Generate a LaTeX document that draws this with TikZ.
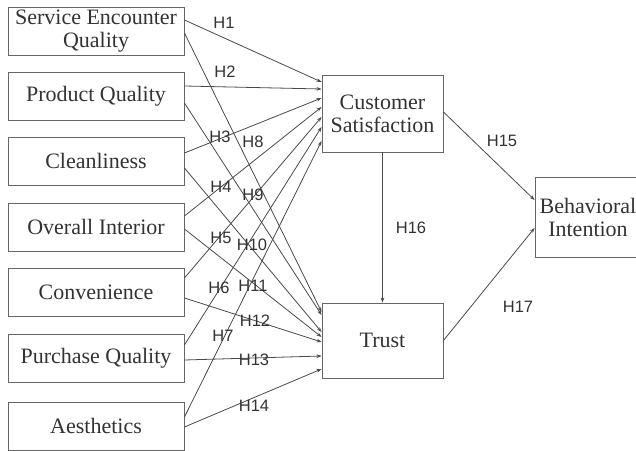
\documentclass[tikz,border=0pt]{standalone}
\usepackage{fontspec}
\setmainfont{Liberation Serif}
\newfontfamily\labfont{Liberation Sans}
\usetikzlibrary{arrows.meta}
\definecolor{linec}{HTML}{4A4A4A}
\definecolor{boxc}{HTML}{666666}
\definecolor{txtc}{HTML}{333333}
\begin{document}
\begin{tikzpicture}[x=1bp,y=-1bp,
  box/.style={draw=boxc, line width=0.9bp, minimum width=176bp, minimum height=48bp,
    inner sep=0pt, align=center, text=txtc, font=\fontsize{22bp}{23bp}\selectfont},
  lab/.style={text=txtc, font=\labfont\fontsize{16.5bp}{18bp}\selectfont, inner sep=0pt},
  conn/.style={draw=linec, line width=0.8bp, -{Stealth[length=5bp,width=3.6bp]}}]
\clip (0,0) rectangle (636,451);
\fill[white] (0,0) rectangle (636,451);
% source boxes
\node[box] (seq) at (96,31) {Service Encounter\\Quality};
\node[box] (pq) at (96,96) {Product Quality};
\node[box] (cl) at (96,161) {Cleanliness};
\node[box] (oi) at (96,227) {Overall Interior};
\node[box] (cv) at (96,292) {Convenience};
\node[box] (puq) at (96,358) {Purchase Quality};
\node[box] (ae) at (96,426) {Aesthetics};
% mediators and outcome
\node[box, minimum width=121bp, minimum height=77bp] (cs) at (382.5,113.5) {Customer\\Satisfaction};
\node[box, minimum width=121bp, minimum height=75bp] (tr) at (382.5,340.5) {Trust};
\node[box, minimum width=106bp, minimum height=80bp] (bi) at (588,217) {Behavioral\\Intention};
% to Customer Satisfaction
\draw[conn] ([yshift=11bp]seq.east) -- ([yshift=31.5bp]cs.west);
\draw[conn] ([yshift=10bp]pq.east) -- ([yshift=24.5bp]cs.west);
\draw[conn] ([yshift=8bp]cl.east) -- ([yshift=15.5bp]cs.west);
\draw[conn] ([yshift=11bp]oi.east) -- ([yshift=6.5bp]cs.west);
\draw[conn] ([yshift=14bp]cv.east) -- ([yshift=-3.5bp]cs.west);
\draw[conn] ([yshift=13bp]puq.east) -- ([yshift=-13.5bp]cs.west);
\draw[conn] ([yshift=9bp]ae.east) -- ([yshift=-27.5bp]cs.west);
% to Trust
\draw[conn] ([yshift=-2bp]seq.east) -- ([yshift=28.5bp]tr.west);
\draw[conn] ([yshift=-7bp]pq.east) -- ([yshift=25.5bp]tr.west);
\draw[conn] ([yshift=-7bp]cl.east) -- ([yshift=8.5bp]tr.west);
\draw[conn] ([yshift=-2bp]oi.east) -- ([yshift=3.5bp]tr.west);
\draw[conn] ([yshift=-6bp]cv.east) -- ([yshift=-1.5bp]tr.west);
\draw[conn] ([yshift=-2bp]puq.east) -- ([yshift=-15.5bp]tr.west);
\draw[conn] ([yshift=-1bp]ae.east) -- ([yshift=-28.5bp]tr.west);
% outcome paths
\draw[conn] ([yshift=1.5bp]cs.east) -- ([yshift=17bp]bi.west);
\draw[conn] (cs.south) -- (tr.north);
\draw[conn] (tr.east) -- ([yshift=-11bp]bi.west);
% labels
\node[lab] (h1) at (224,22.5) {H1};
\node[lab] (h2) at (225,72) {H2};
\node[lab] (h3) at (220,137) {H3};
\node[lab] (h8) at (253,142) {H8};
\node[lab] (h4) at (221,187) {H4};
\node[lab] (h9) at (253,195) {H9};
\node[lab] (h5) at (221,238) {H5};
\node[lab] (h10) at (252,245) {H10};
\node[lab] (h6) at (219,288) {H6};
\node[lab] (h11) at (253,286) {H11};
\node[lab] (h12) at (255,321) {H12};
\node[lab] (h7) at (223,336) {H7};
\node[lab] (h13) at (254,360) {H13};
\node[lab] (h14) at (254,406) {H14};
\node[lab] (h15) at (502,141) {H15};
\node[lab] (h16) at (411,228) {H16};
\node[lab] (h17) at (518,307) {H17};
\end{tikzpicture}
\end{document}
